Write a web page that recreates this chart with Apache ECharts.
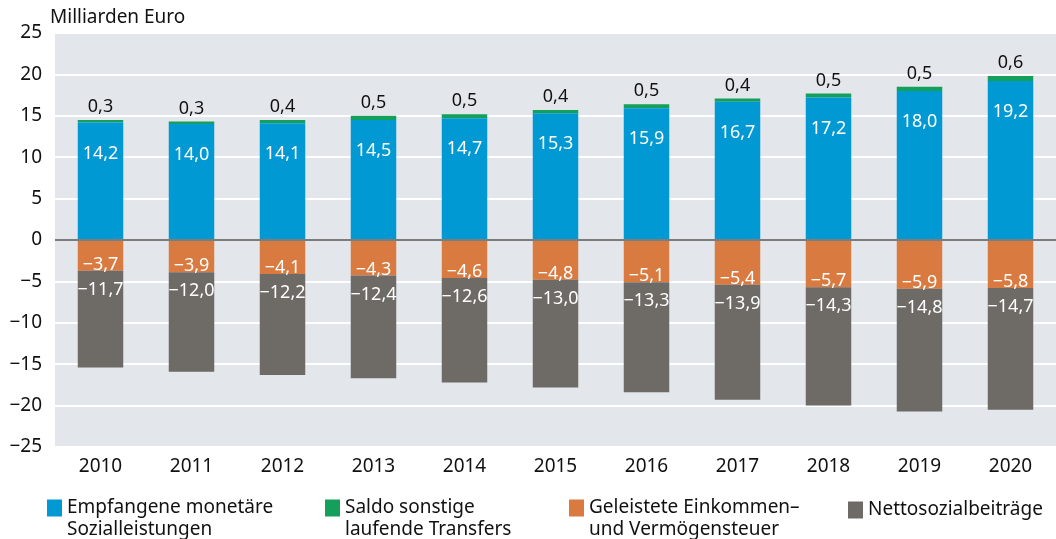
<!DOCTYPE html>
<html>
<head>
<meta charset="utf-8">
<script src="https://cdn.jsdelivr.net/npm/echarts@6/dist/echarts.min.js"></script>
<style>
  html, body { margin: 0; padding: 0; background: #fff; }
  #chart { width: 1056px; height: 539px; }
</style>
</head>
<body>
<div id="chart"></div>
<script>
const jahre = ['2010', '2011', '2012', '2013', '2014', '2015', '2016', '2017', '2018', '2019', '2020'];
const sozialleistungen = [14.2, 14.0, 14.1, 14.5, 14.7, 15.3, 15.9, 16.7, 17.2, 18.0, 19.2];
const transfers = [0.3, 0.3, 0.4, 0.5, 0.5, 0.4, 0.5, 0.4, 0.5, 0.5, 0.6];
const steuern = [-3.7, -3.9, -4.1, -4.3, -4.6, -4.8, -5.1, -5.4, -5.7, -5.9, -5.8];
const sozialbeitraege = [-11.7, -12.0, -12.2, -12.4, -12.6, -13.0, -13.3, -13.9, -14.3, -14.8, -14.7];

const namen = [
    'Empfangene monetäre\nSozialleistungen',
    'Saldo sonstige\nlaufende Transfers',
    'Geleistete Einkommen–\nund Vermögensteuer',
    'Nettosozialbeiträge'
];
const farben = ['#0099d3', '#14a05b', '#d97b40', '#6e6a66'];
const schrift = '"Noto Sans", sans-serif';

// deutsche Schreibweise: Komma und echtes Minuszeichen
function zahl(v) {
    return v.toFixed(1).replace('.', ',').replace('-', '\u2212');
}

function label(position, farbe, abstand) {
    return {
        show: true,
        position: position,
        distance: abstand,
        color: farbe,
        fontSize: 18,
        fontFamily: schrift,
        formatter: function (p) { return zahl(p.value); }
    };
}

var chart = echarts.init(document.getElementById('chart'), null, { renderer: 'canvas' });

var legendLinks = [47, 325, 569, 848];

var option = {
    animation: false,
    textStyle: { fontFamily: schrift },
    grid: {
        left: 55, right: 0, top: 33, bottom: 92,
        show: true,
        backgroundColor: '#e3e7eb',
        borderWidth: 0
    },
    legend: namen.map(function (n, i) {
        var zweizeilig = n.indexOf('\n') >= 0;
        return {
            data: [n],
            left: legendLinks[i],
            top: zweizeilig ? 475 : 499,
            padding: 0,
            itemWidth: 15,
            itemHeight: 17,
            icon: 'rect',
            // leere erste Zeile, damit das Symbol auf Höhe der ersten Textzeile sitzt
            formatter: function (name) { return zweizeilig ? ' \n' + name : name; },
            textStyle: { fontSize: 19, color: '#111', fontFamily: schrift, lineHeight: 22 }
        };
    }),
    xAxis: {
        type: 'category',
        data: jahre,
        axisLine: { show: false },
        axisTick: { show: false },
        axisLabel: { color: '#111', fontSize: 19, margin: 10 }
    },
    yAxis: {
        type: 'value',
        min: -25,
        max: 25,
        interval: 5,
        name: 'Milliarden Euro',
        nameLocation: 'end',
        nameGap: 6,
        nameTextStyle: { color: '#111', fontSize: 19, align: 'left', padding: [0, 0, 0, -5] },
        axisLabel: {
            color: '#111', fontSize: 19, margin: 13,
            formatter: function (v) { return String(v).replace('-', '\u2212'); }
        },
        axisLine: { show: false },
        axisTick: { show: false },
        splitLine: { lineStyle: { color: '#ffffff', width: 2 } }
    },
    series: [
        {
            name: namen[0], type: 'bar', stack: 'gesamt', barWidth: '50%',
            data: sozialleistungen,
            itemStyle: { color: farben[0] },
            label: label('insideTop', '#fff', 22),
            markLine: {
                silent: true, symbol: 'none', label: { show: false },
                lineStyle: { color: '#7c7c7c', width: 2, type: 'solid' },
                data: [{ yAxis: 0 }]
            },
            z: 3
        },
        {
            name: namen[1], type: 'bar', stack: 'gesamt', barWidth: '50%',
            data: transfers,
            itemStyle: { color: farben[1] },
            label: label('top', '#111', 4)
        },
        {
            name: namen[2], type: 'bar', stack: 'gesamt', barWidth: '50%',
            data: steuern,
            itemStyle: { color: farben[2] },
            label: label('insideBottom', '#fff', -3)
        },
        {
            name: namen[3], type: 'bar', stack: 'gesamt', barWidth: '50%',
            data: sozialbeitraege,
            itemStyle: { color: farben[3] },
            label: label('insideTop', '#fff', 10)
        }
    ]
};

chart.setOption(option);
</script>
</body>
</html>
